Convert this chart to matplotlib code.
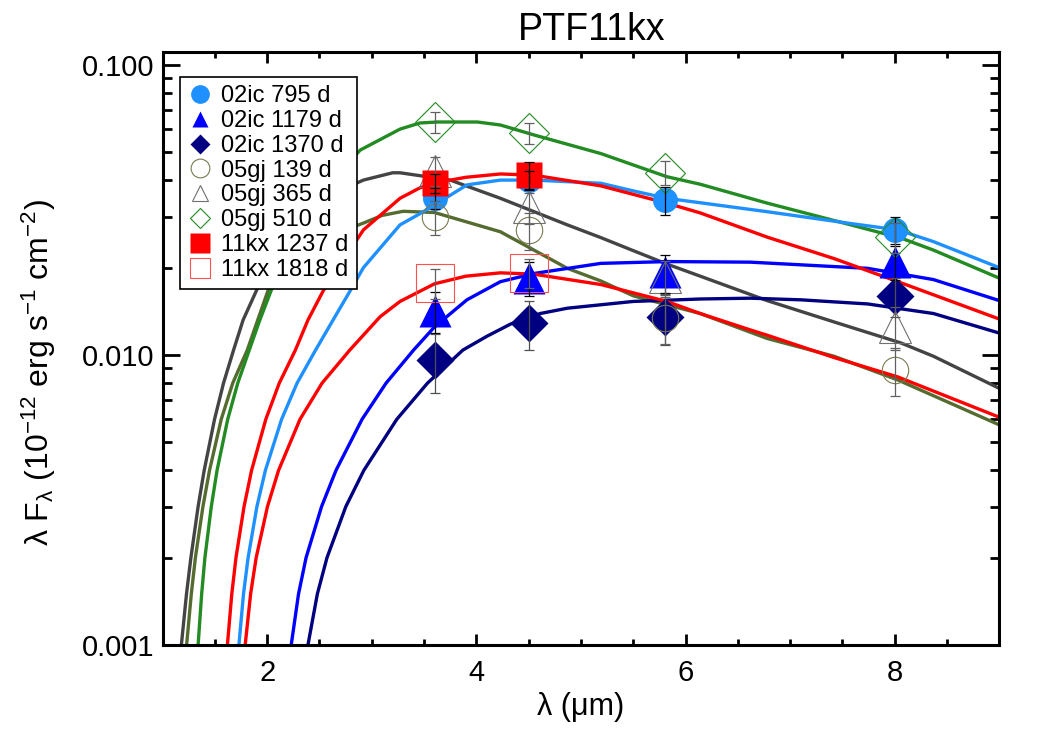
import matplotlib
matplotlib.use("Agg")
import matplotlib.pyplot as plt
from matplotlib.lines import Line2D
from matplotlib.ticker import FixedLocator, MultipleLocator, LogLocator, NullFormatter

plt.rcParams['font.family'] = ['Liberation Sans', 'DejaVu Sans']
plt.rcParams['mathtext.fontset'] = 'custom'
plt.rcParams['mathtext.rm'] = 'Liberation Sans'
plt.rcParams['mathtext.default'] = 'regular'

# photometry epochs (wavelength in micron)
wave_4 = [3.6, 4.5, 5.8, 8.0]
wave_2 = [3.6, 4.5]

ic795 = [0.0348, 0.0401, 0.0343, 0.0270]
ic795_err = [0.003, 0.003, 0.0038, 0.0028]
ic1179 = [0.0142, 0.0185, 0.0193, 0.0209]
ic1179_err = [0.0023, 0.0025, 0.0029, 0.0028]
ic1370 = [0.0096, 0.0129, 0.0135, 0.0160]
ic1370_err = [0.0022, 0.0025, 0.0027, 0.0025]
gj139 = [0.0299, 0.0270, 0.0134, 0.0089]
gj139_err = [0.004, 0.004, 0.0025, 0.0017]
gj365 = [0.0432, 0.0323, 0.0186, 0.0125]
gj365_err = [0.005, 0.004, 0.0025, 0.0021]
gj510 = [0.0636, 0.0583, 0.0425, 0.0255]
gj510_err = [0.0055, 0.005, 0.004, 0.003]
kx1237 = [0.0392, 0.0418]
kx1237_err = [0.003, 0.0045]
kx1818 = [0.0177, 0.0192]
kx1818_err = [0.0021, 0.0022]

# model SED curves
fit795_x = [1.73, 1.774, 1.818, 1.902, 1.983, 2.138, 2.286, 2.463, 2.63, 2.80, 2.92, 3.27,
            3.46, 3.6, 3.91, 4.23, 4.55, 4.87, 5.19, 5.50, 5.82, 6.14, 6.78, 7.58, 8.03,
            8.37, 9.0]
fit795_y = [0.001, 0.0015, 0.002, 0.003, 0.004, 0.006, 0.008, 0.0104, 0.0132, 0.0168,
            0.0200, 0.0281, 0.0307, 0.0329, 0.0386, 0.0401, 0.0401, 0.0396, 0.0391, 0.0368,
            0.0347, 0.0335, 0.0312, 0.0284, 0.0270, 0.0246, 0.0200]
fit1179_x = [2.23, 2.30, 2.372, 2.52, 2.658, 2.907, 3.137, 3.40, 3.6, 3.91, 4.23, 4.55,
             5.19, 5.83, 6.62, 7.74, 8.37, 9.0]
fit1179_y = [0.001, 0.0015, 0.002, 0.003, 0.004, 0.006, 0.008, 0.0104, 0.0125, 0.0155,
             0.0179, 0.0191, 0.0207, 0.0210, 0.0209, 0.0199, 0.0182, 0.0154]
fit1370_x = [2.39, 2.48, 2.572, 2.752, 2.924, 3.239, 3.533, 3.871, 4.1, 4.33, 4.61, 4.87,
             5.50, 6.14, 6.62, 7.1, 7.74, 8.37, 9.0]
fit1370_y = [0.001, 0.0015, 0.002, 0.003, 0.004, 0.006, 0.008, 0.0104, 0.0116, 0.0128,
             0.0139, 0.0145, 0.0153, 0.0156, 0.0157, 0.0155, 0.0150, 0.0139, 0.0119]
fit139_x = [1.23, 1.275, 1.314, 1.386, 1.449, 1.561, 1.671, 1.81, 1.91, 2.01, 2.50, 2.92,
            3.10, 3.30, 3.6, 4.23, 4.87, 5.19, 5.50, 5.82, 6.14, 6.78, 7.42, 8.03, 9.0]
fit139_y = [0.001, 0.0015, 0.002, 0.003, 0.004, 0.006, 0.008, 0.0104, 0.0132, 0.01675,
            0.025, 0.0285, 0.0303, 0.0313, 0.0310, 0.0266, 0.0199, 0.0180, 0.0160, 0.0149,
            0.0139, 0.0114, 0.0099, 0.0082, 0.00574]
fit365_x = [1.18, 1.229, 1.271, 1.340, 1.398, 1.497, 1.583, 1.679, 1.77, 1.90, 2.40, 2.92,
            3.20, 3.27, 3.75, 4.23, 4.87, 5.19, 5.50, 5.82, 6.14, 6.78, 7.42, 8.06, 8.37, 9.0]
fit365_y = [0.001, 0.0015, 0.002, 0.003, 0.004, 0.006, 0.008, 0.0104, 0.0132, 0.01675,
            0.033, 0.0401, 0.0425, 0.0425, 0.0401, 0.0347, 0.0281, 0.0254, 0.0229, 0.0206,
            0.0187, 0.0154, 0.0130, 0.0110, 0.0099, 0.00767]
fit510_x = [1.34, 1.374, 1.405, 1.466, 1.521, 1.623, 1.719, 1.829, 1.93, 2.04, 2.45, 2.89,
            3.27, 3.46, 3.63, 4.01, 4.23, 4.55, 5.19, 5.82, 6.14, 6.78, 7.58, 8.06, 8.37, 9.0]
fit510_y = [0.001, 0.0015, 0.002, 0.003, 0.004, 0.006, 0.008, 0.0104, 0.0132, 0.01675,
            0.034, 0.0509, 0.0601, 0.0631, 0.0636, 0.0636, 0.0621, 0.0574, 0.0495, 0.0412,
            0.0388, 0.0334, 0.0281, 0.0253, 0.0230, 0.0184]
fit1237_x = [1.62, 1.662, 1.702, 1.779, 1.851, 1.987, 2.116, 2.270, 2.39, 2.54, 2.92, 3.27,
             3.46, 3.6, 3.9, 4.23, 4.55, 5.19, 5.82, 6.14, 6.78, 7.42, 8.03, 9.0]
fit1237_y = [0.001, 0.0015, 0.002, 0.003, 0.004, 0.006, 0.008, 0.0104, 0.0132, 0.01675,
             0.0270, 0.0347, 0.0377, 0.0392, 0.0410, 0.0421, 0.0417, 0.0383, 0.0334, 0.0309,
             0.0255, 0.0215, 0.0179, 0.0133]
fit1818_x = [1.79, 1.842, 1.895, 2.003, 2.109, 2.314, 2.525, 2.79, 3.08, 3.27, 3.6, 3.9,
             4.23, 4.55, 5.19, 5.82, 6.14, 6.62, 6.78, 7.42, 8.03, 9.0]
fit1818_y = [0.001, 0.0015, 0.002, 0.003, 0.004, 0.006, 0.008, 0.0104, 0.01355, 0.0153,
             0.0176, 0.0187, 0.0192, 0.0190, 0.0175, 0.0153, 0.0139, 0.0122, 0.0117, 0.0098,
             0.0084, 0.0061]

labels = ['02ic 795 d', '02ic 1179 d', '02ic 1370 d', '05gj 139 d', '05gj 365 d',
          '05gj 510 d', '11kx 1237 d', '11kx 1818 d']

c_lblue = '#1E90FF'
c_blue = '#0000FF'
c_navy = '#000080'
c_olive = '#556B2F'
c_gray = '#444444'
c_green = '#228B22'
c_red = '#FF0000'

fig = plt.figure(figsize=(10.5, 7.5), dpi=100)
ax = fig.add_axes([0.1548, 0.14, 0.797, 0.7907])

lw = 2.4
ax.plot(fit139_x, fit139_y, color=c_olive, lw=lw, zorder=2)
ax.plot(fit365_x, fit365_y, color=c_gray, lw=lw, zorder=2)
ax.plot(fit510_x, fit510_y, color=c_green, lw=lw, zorder=2)
ax.plot(fit795_x, fit795_y, color=c_lblue, lw=lw, zorder=2)
ax.plot(fit1179_x, fit1179_y, color=c_blue, lw=lw, zorder=2)
ax.plot(fit1370_x, fit1370_y, color=c_navy, lw=lw, zorder=2)
ax.plot(fit1818_x, fit1818_y, color=c_red, lw=lw, zorder=2)
ax.plot(fit1237_x, fit1237_y, color=c_red, lw=lw, zorder=2)

# markers
ax.plot(wave_4, ic795, 'o', ms=18, color=c_lblue, mec='none', zorder=3)
ax.plot(wave_4, ic1179, '^', ms=23, color=c_blue, mec='none', zorder=3)
ax.plot(wave_4, ic1370, 'D', ms=19, color=c_navy, mec='none', zorder=3)
ax.plot(wave_4, gj139, 'o', ms=19, mfc='none', mec='#7A7A50', mew=0.8, zorder=3)
ax.plot(wave_4, gj365, '^', ms=23, mfc='none', mec='#707070', mew=0.8, zorder=3)
ax.plot(wave_4, gj510, 'D', ms=20, mfc='none', mec=c_green, mew=0.8, zorder=3)
ax.plot(wave_2, kx1237, 's', ms=18.5, color=c_red, mec='none', zorder=3)
ax.plot(wave_2, kx1818, 's', ms=28, mfc='none', mec='#FF5050', mew=0.8, zorder=3)

# error bars on top of the symbols
eb = dict(fmt='none', capsize=3.6, elinewidth=0.9, capthick=0.9, zorder=4)
ax.errorbar(wave_4, ic795, yerr=ic795_err, ecolor='black', **eb)
ax.errorbar(wave_4, ic1179, yerr=ic1179_err, ecolor='black', **eb)
ax.errorbar(wave_4, ic1370, yerr=ic1370_err, ecolor='#505050', **eb)
ax.errorbar(wave_4, gj139, yerr=gj139_err, ecolor='#606060', **eb)
ax.errorbar(wave_4, gj365, yerr=gj365_err, ecolor='#606060', **eb)
ax.errorbar(wave_4, gj510, yerr=gj510_err, ecolor='#606060', **eb)
ax.errorbar(wave_2, kx1237, yerr=kx1237_err, ecolor='black', **eb)
ax.errorbar(wave_2, kx1818, yerr=kx1818_err, ecolor='#606060', **eb)

ax.set_yscale('log')
ax.set_xlim(1.0, 9.0)
ax.set_ylim(0.001, 0.1109)

ax.xaxis.set_major_locator(FixedLocator([2, 4, 6, 8]))
ax.set_xticklabels(['2', '4', '6', '8'])
ax.xaxis.set_minor_locator(MultipleLocator(0.5))
ax.set_yticks([0.001, 0.01, 0.1])
ax.set_yticklabels(['0.001', '0.010', '0.100'])
ax.yaxis.set_minor_locator(LogLocator(base=10, subs=range(2, 10)))
ax.yaxis.set_minor_formatter(NullFormatter())

ax.tick_params(which='both', direction='in', top=True, right=True, width=2, labelsize=21)
ax.tick_params(axis='x', which='major', length=8, pad=10)
ax.tick_params(axis='x', which='minor', length=4.5)
ax.tick_params(axis='y', which='major', length=12, pad=6)
ax.tick_params(axis='y', which='minor', length=6.5)
for sp in ax.spines.values():
    sp.set_linewidth(2.2)

ax.set_xlabel('λ (μm)', fontsize=22, labelpad=4)
ax.set_ylabel('λ F$_λ$ (10$^{-12}$ erg s$^{-1}$ cm$^{-2}$)', fontsize=23)
ax.yaxis.set_label_coords(-0.125, 0.46)

fig.text(0.563, 1 - 40 / 750, 'PTF11kx', ha='center', va='baseline', fontsize=27)

handles = [
    Line2D([], [], ls='none', marker='o', ms=13.5, color=c_lblue, mec='none'),
    Line2D([], [], ls='none', marker='^', ms=12, color=c_blue, mec='none'),
    Line2D([], [], ls='none', marker='D', ms=10, color=c_navy, mec='none'),
    Line2D([], [], ls='none', marker='o', ms=13.5, mfc='none', mec='#7A7A50', mew=0.8),
    Line2D([], [], ls='none', marker='^', ms=12, mfc='none', mec='#707070', mew=0.8),
    Line2D([], [], ls='none', marker='D', ms=10, mfc='none', mec=c_green, mew=0.8),
    Line2D([], [], ls='none', marker='s', ms=14, color=c_red, mec='none'),
    Line2D([], [], ls='none', marker='s', ms=14, mfc='none', mec='#FF5050', mew=0.8),
]
leg = ax.legend(handles, labels, loc='upper left', bbox_to_anchor=(0.021, 0.958),
                borderaxespad=0, fontsize=17, handlelength=1.0, handletextpad=0.4,
                labelspacing=0.12, borderpad=0.35, fancybox=False, framealpha=1,
                edgecolor='black')
leg.get_frame().set_linewidth(1.2)
leg.set_zorder(10)

fig.savefig('out.png', dpi=100)
